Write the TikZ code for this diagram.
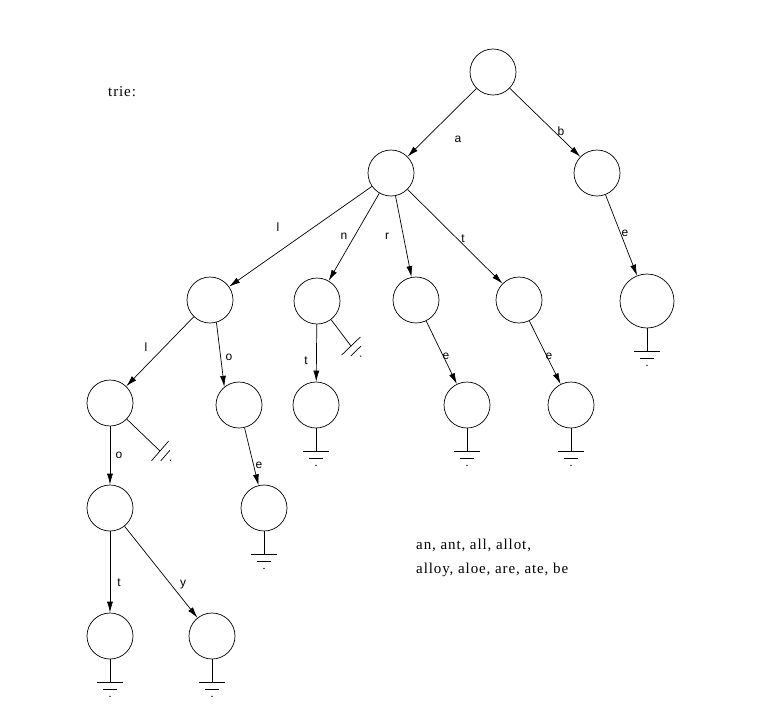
\documentclass[tikz,border=0pt]{standalone}
\usepackage{fontspec}
\setmainfont{Liberation Serif}
\newfontfamily\lblfont{Liberation Sans}
\usetikzlibrary{arrows.meta}
\begin{document}
\begin{tikzpicture}[x=1pt,y=-1pt,
  vertex/.style={circle,draw,line width=0.7pt,minimum size=46pt,inner sep=0pt},
  bigvertex/.style={vertex,minimum size=54pt},
  link/.style={draw,line width=0.7pt,-{Latex[length=11pt,width=6pt]}},
  stub/.style={draw,line width=0.7pt},
  lbl/.style={font=\lblfont\fontsize{12}{14}\selectfont,inner sep=0pt},
  txt/.style={font=\addfontfeature{LetterSpace=6}\fontsize{15}{24}\selectfont,inner sep=0pt},
  earth/.pic={\draw[line width=0.7pt] (-13,0)--(13,0) (-7,7)--(7,7); \fill (0,14) circle (0.8);}
]
\useasboundingbox (0,0) rectangle (783,724);

% trie nodes
\node[vertex] (root) at (493,72) {};
\node[vertex] (a) at (391,173) {};
\node[vertex] (b) at (597,173) {};
\node[bigvertex] (be) at (647,301) {};
\node[vertex] (al) at (210,300) {};
\node[vertex] (an) at (317,301) {};
\node[vertex] (ar) at (416,300) {};
\node[vertex] (at) at (519,300) {};
\node[vertex] (all) at (110,403) {};
\node[vertex] (alo) at (239,405) {};
\node[vertex] (ant) at (316,405) {};
\node[vertex] (are) at (467,405) {};
\node[vertex] (ate) at (571,405) {};
\node[vertex] (allo) at (110,508) {};
\node[vertex] (aloe) at (264,508) {};
\node[vertex] (allot) at (110,636) {};
\node[vertex] (alloy) at (212,636) {};

% labelled edges
\draw[link] (root) -- (a);
\draw[link] (root) -- (b);
\draw[link] (b) -- (be);
\draw[link] (a) -- (al);
\draw[link] (a) -- (an);
\draw[link] (a) -- (ar);
\draw[link] (a) -- (at);
\draw[link] (al) -- (all);
\draw[link] (al.-74) -- (alo.129);
\draw[link] (an) -- (ant);
\draw[link] (ar) -- (are);
\draw[link] (at) -- (ate);
\draw[link] (all) -- (allo);
\draw[link] (alo) -- (aloe);
\draw[link] (allo) -- (allot);
\draw[link] (allo) -- (alloy);

\node[lbl] (la) at (458,139) {a};
\node[lbl] (lb) at (561,131) {b};
\node[lbl] (lbe) at (625,233) {e};
\node[lbl] (lal) at (278,227) {l};
\node[lbl] (lan) at (344,236) {n};
\node[lbl] (lar) at (387,236) {r};
\node[lbl] (lat) at (463,239) {t};
\node[lbl] (lall) at (146,347) {l};
\node[lbl] (lalo) at (229,357) {o};
\node[lbl] (lant) at (306,361) {t};
\node[lbl] (lare) at (446,356) {e};
\node[lbl] (late) at (549,356) {e};
\node[lbl] (lallo) at (119,455) {o};
\node[lbl] (laloe) at (259,465) {e};
\node[lbl] (lallot) at (119,583) {t};
\node[lbl] (lalloy) at (183,585) {y};

% end-of-word markers
\foreach \w in {be,ant,are,ate,aloe,allot,alloy} {
  \coordinate (g-\w) at ([yshift=-23pt]\w.south);
  \draw[stub] (\w) -- (g-\w);
  \pic at (g-\w) {earth};
}

% null links
\coordinate (g-an) at (351,346);
\draw[stub] (an) -- (g-an);
\pic[rotate=44] at (g-an) {earth};
\coordinate (g-all) at (160,451);
\draw[stub] (all) -- (g-all);
\pic[rotate=49] at (g-all) {earth};

% captions
\node[txt,anchor=west] (title) at (108,92) {trie:};
\node[txt,anchor=north west,align=left] (words) at (416,539)
  {an, ant, all, allot,\\alloy, aloe, are, ate, be};
\end{tikzpicture}
\end{document}
